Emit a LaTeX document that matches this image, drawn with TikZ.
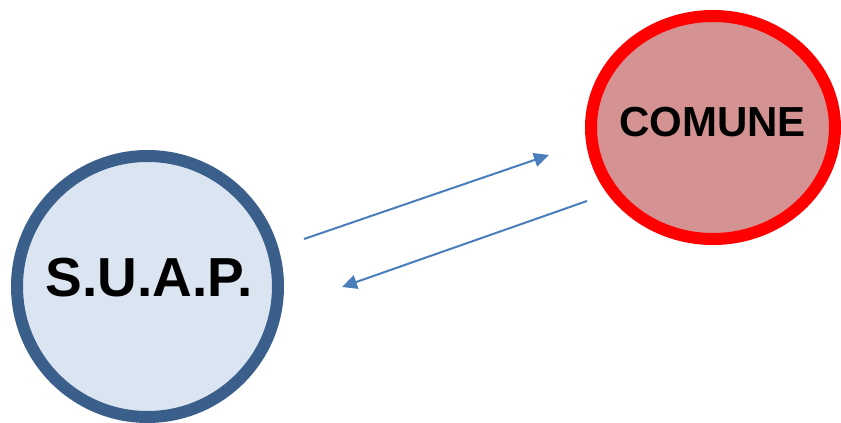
\documentclass[tikz,border=0pt]{standalone}
\usepackage{fontspec}
\setmainfont{Liberation Sans}
\usetikzlibrary{shapes.geometric,arrows.meta}
\definecolor{suapfill}{HTML}{DBE5F1}
\definecolor{suapline}{HTML}{3A5F8B}
\definecolor{comfill}{HTML}{D49292}
\definecolor{comline}{HTML}{FF0000}
\definecolor{arrowblue}{HTML}{4A7EBB}
\begin{document}
\begin{tikzpicture}[x=1pt,y=-1pt,
  suapshape/.style={circle,draw=suapline,fill=suapfill,line width=12pt,minimum size=261pt,inner sep=0pt},
  comshape/.style={ellipse,draw=comline,fill=comfill,line width=12pt,minimum width=244pt,minimum height=223pt,inner sep=0pt},
  lbl/.style={font=\bfseries,text=black,inner sep=0pt},
  flow/.style={draw=arrowblue,line width=2pt,-{Triangle[length=15pt,width=14pt]}}]
\useasboundingbox (0,0) rectangle (841,423);
\fill[white] (0,0) rectangle (841,423);
\node[suapshape] (suap) at (147.5,286.5) {};
\node[comshape] (comune) at (713,127.5) {};
\node[lbl,font=\fontsize{55}{62}\selectfont\bfseries] (suaptext) at (149,278) {S.U.A.P.};
\node[lbl,font=\fontsize{42}{48}\selectfont\bfseries] (comtext) at (712.5,122) {COMUNE};
\coordinate (a1s) at (304,239);
\coordinate (a1e) at (549,155);
\coordinate (a2s) at (587,201);
\coordinate (a2e) at (342,287);
\draw[flow] (a1s) -- (a1e);
\draw[flow] (a2s) -- (a2e);
\end{tikzpicture}
\end{document}
